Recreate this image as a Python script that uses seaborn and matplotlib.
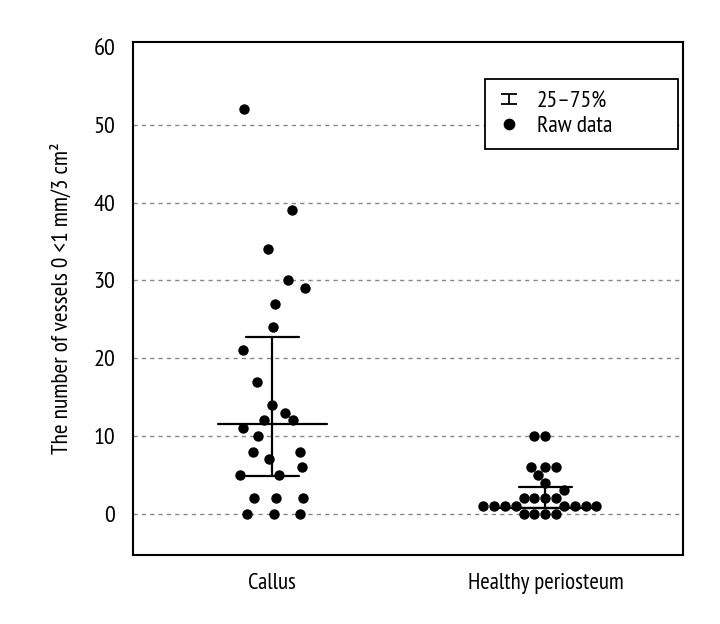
import numpy as np
import pandas as pd
import matplotlib
matplotlib.use("Agg")
import matplotlib.pyplot as plt
import seaborn as sns
from matplotlib import font_manager
from matplotlib.path import Path

# Data
callus = [52, 39, 34, 30, 29, 27, 24, 21, 17, 14, 13, 12, 12, 11, 10,
          8, 8, 7, 6, 5, 5, 2, 2, 2, 0, 0, 0]
healthy = [10, 10, 6, 6, 6, 5, 4, 3, 2, 2, 2, 2,
           1, 1, 1, 1, 1, 1, 1, 1, 0, 0, 0, 0]
groups = ["Callus", "Healthy periosteum"]
medians = [11.6, 0.8]
q1 = [4.8, 0.8]
q3 = [22.7, 3.4]

df = pd.DataFrame({
    "group": ["Callus"] * len(callus) + ["Healthy periosteum"] * len(healthy),
    "value": callus + healthy,
})

sns.set_theme(style="white")
names = {f.name for f in font_manager.fontManager.ttflist}
fam = next((f for f in ["PT Sans Narrow", "Roboto Condensed", "Liberation Sans Narrow"] if f in names),
           "DejaVu Sans")
plt.rcParams["font.family"] = [fam, "DejaVu Sans"]

fig = plt.figure(figsize=(7.2, 6.24), dpi=100)
ax = fig.add_axes([0.185, 0.1106, 0.764, 0.822])

# callus: jittered scatter, healthy periosteum: swarm rows
np.random.seed(7)
sns.stripplot(data=df[df.group == "Callus"], x="group", y="value", order=groups,
              color="black", size=7.5, jitter=0.125, ax=ax, zorder=3)
sns.swarmplot(data=df[df.group == "Healthy periosteum"], x="group", y="value", order=groups,
              color="black", size=7.5, ax=ax, zorder=3)

# median and interquartile bars
for i, g in enumerate(groups):
    ax.plot([i - 0.2, i + 0.2], [medians[i], medians[i]], color="black", lw=1.6, zorder=4)
    ax.plot([i, i], [q1[i], q3[i]], color="black", lw=1.6, zorder=4)
    for q in (q1[i], q3[i]):
        ax.plot([i - 0.096, i + 0.096], [q, q], color="black", lw=1.6, zorder=4)

ax.set_xlim(-0.51, 1.505)
ax.set_ylim(-5.3, 60.65)
ax.set_yticks(np.arange(0, 61, 10))
ax.yaxis.grid(True, linestyle=(0, (3, 3)), color="#888888", lw=1)
ax.get_ygridlines()[-1].set_visible(False)
ax.set_axisbelow(True)
for s in ax.spines.values():
    s.set_color("black")
    s.set_linewidth(1.5)
ax.tick_params(axis="y", labelsize=17.5, length=0, pad=13, labelcolor="black")
ax.tick_params(axis="x", labelsize=16.5, length=0, pad=13, labelcolor="black")
ax.set_xlabel("")
ax.set_ylabel("The number of vessels 0 <1 mm/3 cm²", fontsize=16.8, labelpad=15, color="black")

# legend: I-bar symbol for the interquartile range
ibar = Path([(-1, -0.67), (1, -0.67), (0, -0.67), (0, 0.67), (-1, 0.67), (1, 0.67)],
            [Path.MOVETO, Path.LINETO, Path.MOVETO, Path.LINETO, Path.MOVETO, Path.LINETO])
bar_h = plt.Line2D([], [], marker=ibar, color="black", linestyle="none",
                   markersize=11, markeredgewidth=1.3, fillstyle="none")
dot_h = plt.Line2D([], [], marker="o", color="black", linestyle="none", markersize=7.4)
leg = ax.legend([bar_h, dot_h], ["25–75%", "Raw data"], loc="upper left",
                bbox_to_anchor=(0.64, 0.5, 0.351, 0.428), mode="expand", borderaxespad=0,
                fontsize=17, frameon=True, fancybox=False, edgecolor="black", framealpha=1,
                handlelength=1.0, borderpad=0.5, labelspacing=0.15, handletextpad=0.7)
leg.get_frame().set_linewidth(1.3)
for t in leg.get_texts():
    t.set_color("black")

fig.savefig("out.png", dpi=100)
